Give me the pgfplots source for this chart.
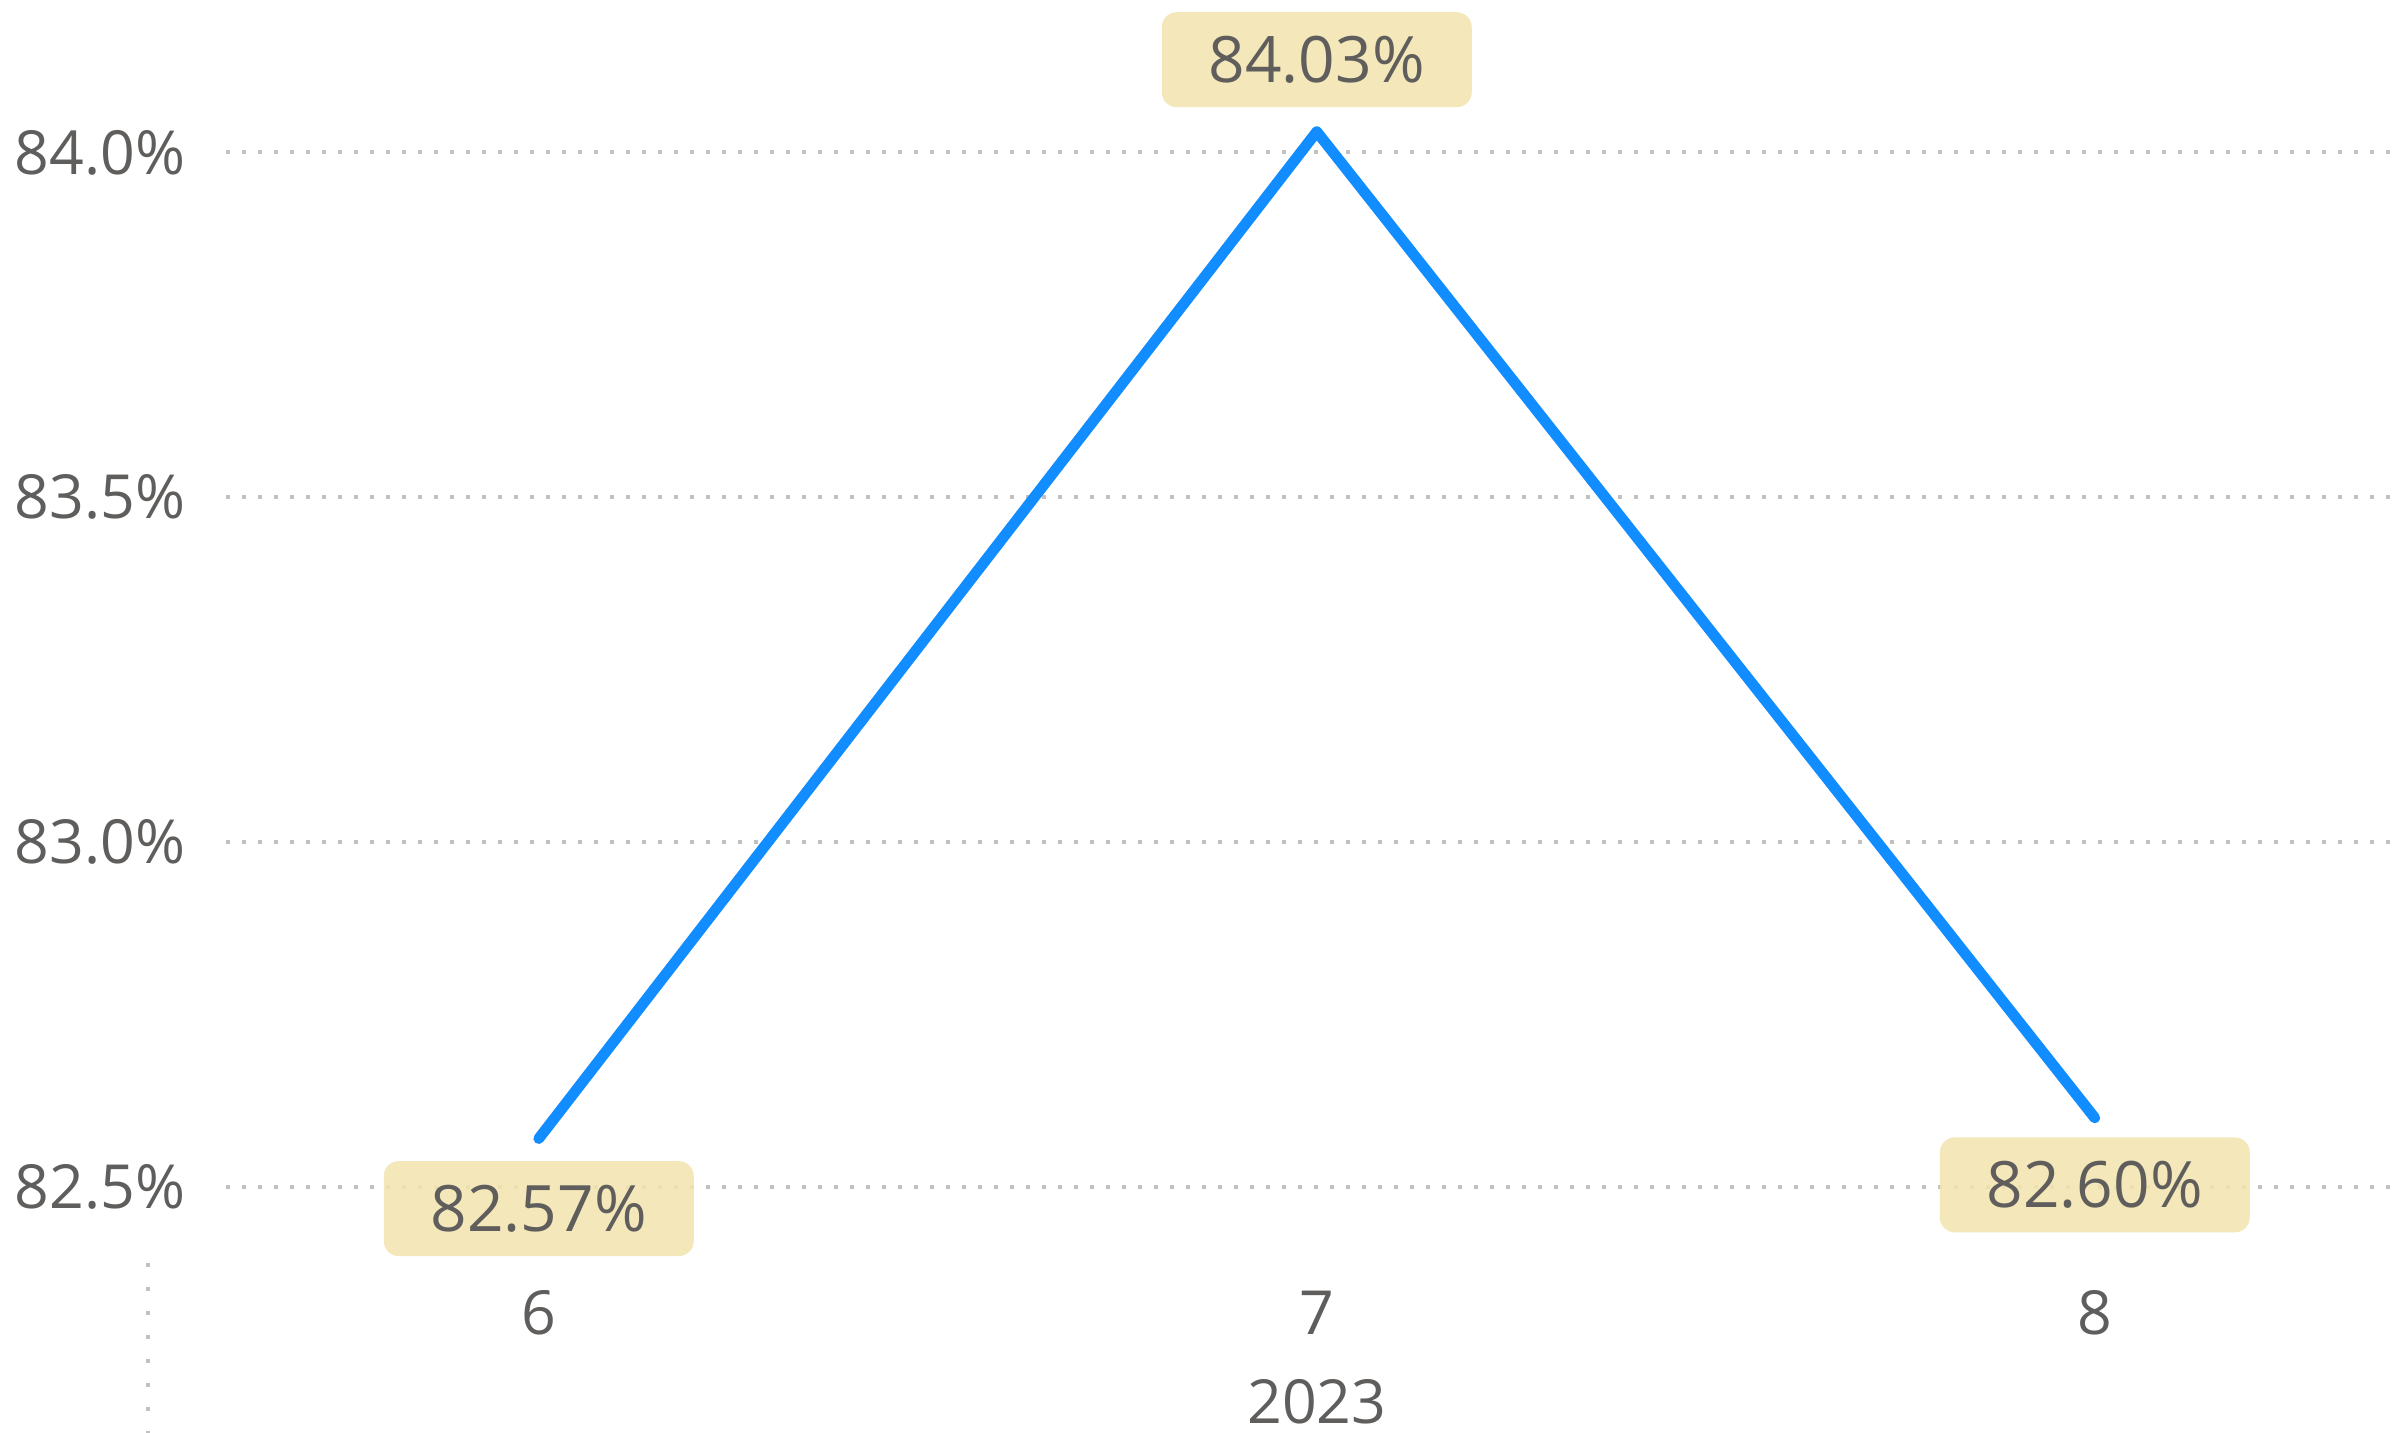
\documentclass[border=0pt]{standalone}
\usepackage{pgfplots}
\pgfplotsset{compat=1.18}
\usepackage{fontspec}
\setmainfont{Open Sans}
\definecolor{txt}{HTML}{605E5C}
\definecolor{gridc}{HTML}{C3C1BF}
\definecolor{pbiblue}{HTML}{118DFF}
\definecolor{lblbox}{HTML}{F2E5B0}
\begin{document}
\begin{tikzpicture}
\useasboundingbox (-56.5pt,-45.5pt) rectangle (541.5pt,312.75pt);
\begin{axis}[
  at={(0,0)}, anchor=south west,
  scale only axis, width=541.5pt, height=312.75pt,
  xmin=5.598, xmax=8.382, ymin=82.407, ymax=84.221,
  clip=false,
  axis line style={draw=none}, major tick length=0pt,
  xtick={6,7,8}, ytick={82.5,83,83.5,84},
  /pgf/number format/assume math mode=true,
  yticklabel={\pgfmathprintnumber[fixed,fixed zerofill,precision=1]{\tick}\%},
  ymajorgrids,
  major grid style={gridc, line width=0.95pt, dash pattern=on 0.95pt off 3.05pt},
  ticklabel style={font=\fontsize{15.2}{18}\selectfont, text=txt, inner sep=0pt},
  yticklabel style={xshift=-10pt},
  xticklabel style={yshift=-9.75pt},
  xlabel={2023},
  xlabel style={at={(axis description cs:0.5036,0)}, anchor=north, yshift=-32pt, inner sep=0pt, font=\fontsize{15.2}{18}\selectfont, text=txt},
]
\addplot[pbiblue, line width=2.7pt, line cap=round, line join=round,
  point meta=explicit,
  visualization depends on={\thisrow{s} \as \lblshift},
  nodes near coords={\pgfmathprintnumber[fixed,fixed zerofill,precision=2]{\pgfplotspointmeta}\%},
  every node near coord/.append style={anchor=center, yshift=\lblshift pt,
    fill=lblbox, fill opacity=0.88, text opacity=1, text=txt,
    rounded corners=3.75pt, minimum width=77.5pt, minimum height=23.75pt,
    inner sep=0pt, font=\fontsize{16}{19}\selectfont}]
  table[x=x, y=y, meta=y] {
x y s
6 82.57 -17.5
7 84.03 18
8 82.60 -16.75
};
\end{axis}
\draw[gridc, line width=0.95pt, dash pattern=on 0.95pt off 5.05pt] (-19.5pt,-3pt) -- (-19.5pt,-45.5pt);
\end{tikzpicture}
\end{document}
